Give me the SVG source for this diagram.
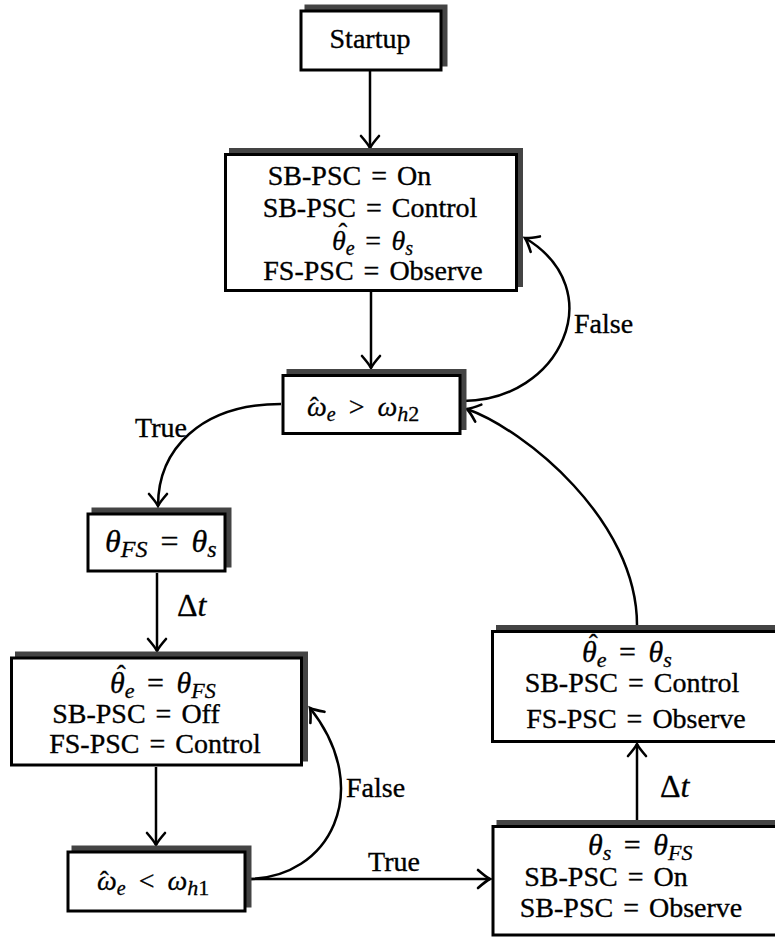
<svg xmlns="http://www.w3.org/2000/svg" width="775" height="939" viewBox="0 0 775 939">
  <style>
    .box { fill: #ffffff; stroke: #000000; stroke-width: 3; }
    .shadow { fill: #444444; stroke: #444444; stroke-width: 3; }
    .t { font-family: "Liberation Serif", "Tinos", "Times New Roman", serif; font-size: 28px; fill: #000000; stroke: #000000; stroke-width: 0.35px; }
    .m { font-family: "Liberation Serif", "Tinos", "Times New Roman", serif; font-size: 28px; font-style: italic; fill: #000000; stroke: #000000; stroke-width: 0.3px; word-spacing: 3.5px; }
    .m30 { font-size: 30px; word-spacing: 5px; }
    .m32 { font-size: 32px; word-spacing: 5px; }
    .w { word-spacing: 6px; }
    .up { font-style: normal; }
    .sub { font-size: 20px; }
    .sub22 { font-size: 22px; }
    .sub24 { font-size: 24px; }
    .hat { font-style: normal; font-size: 26px; }
    .eq { word-spacing: 3px; }
    .edge { fill: none; stroke: #000000; stroke-width: 2.5; marker-end: url(#arrow); }
  </style>
  <defs>
    <marker id="arrow" markerUnits="userSpaceOnUse" viewBox="-14 -10 16 20" refX="0" refY="0" markerWidth="16" markerHeight="20" orient="auto" overflow="visible">
      <path d="M -12,-9 Q -4,-2 0,0 Q -4,2 -12,9" fill="none" stroke="#000000" stroke-width="2.6" stroke-linecap="round" stroke-linejoin="miter"/>
    </marker>
  </defs>

  <!-- connectors -->
  <g id="connectors">
    <path class="edge" d="M 370,71 L 370,148"/>
    <path class="edge" d="M 371,292 L 371,368"/>
    <path class="edge" d="M 281,404 C 200,404 158,450 158,506"/>
    <path class="edge" d="M 157,573 L 157,651"/>
    <path class="edge" d="M 156,767 L 156,845"/>
    <path class="edge" d="M 247,879 C 330,879 375,790 310,708"/>
    <path class="edge" d="M 247,879 L 490,879"/>
    <path class="edge" d="M 637,820 L 637,744"/>
    <path class="edge" d="M 637,625 C 637,520 525,430 467,409"/>
    <path class="edge" d="M 463,401 C 560,401 612,290 525,238"/>
    <text class="t" x="161" y="437" text-anchor="middle">True</text>
    <text class="t" x="574" y="333">False</text>
    <text class="t" x="346" y="797">False</text>
    <text class="t" x="394" y="871" text-anchor="middle">True</text>
    <text class="m m32" x="177" y="616"><tspan class="up">Δ</tspan>t</text>
    <text class="m m32" x="660" y="797"><tspan class="up">Δ</tspan>t</text>
  </g>

  <!-- start -->
  <g id="startup">
    <rect class="shadow" x="306" y="6" width="140" height="59"/>
    <rect class="box" x="301" y="11" width="140" height="59"/>
    <text class="t" x="370" y="48" text-anchor="middle">Startup</text>
  </g>

  <!-- slow-speed observer in control -->
  <g id="sb-control">
    <rect class="shadow" x="230.5" y="149.5" width="291" height="136"/>
    <rect class="box" x="225.5" y="154.5" width="291" height="136"/>
    <text class="t eq" x="349.5" y="185" text-anchor="middle">SB-PSC = On</text>
    <text class="t eq" x="370" y="217" text-anchor="middle">SB-PSC = Control</text>
    <text class="m"><tspan class="hat" x="338.5" y="241">ˆ</tspan><tspan x="332" y="250">θ</tspan><tspan class="sub" dy="5">e</tspan><tspan class="up" dy="-5" xml:space="preserve"> = </tspan>θ<tspan class="sub" dy="5">s</tspan></text>
    <text class="t eq" x="373" y="280" text-anchor="middle">FS-PSC = Observe</text>
  </g>

  <!-- upper speed threshold -->
  <g id="check-high">
    <rect class="shadow" x="288" y="370.5" width="177" height="58"/>
    <rect class="box" x="283" y="375.5" width="177" height="58"/>
    <text class="m w"><tspan class="hat" x="310" y="415">ˆ</tspan><tspan x="307" y="416">ω</tspan><tspan class="sub" dy="5">e</tspan><tspan class="up" dy="-5" xml:space="preserve"> &gt; </tspan>ω<tspan class="sub22" dy="5">h<tspan class="up">2</tspan></tspan></text>
  </g>

  <!-- angle hand-over -->
  <g id="fs-init">
    <rect class="shadow" x="93" y="509" width="137" height="57"/>
    <rect class="box" x="88" y="514" width="137" height="57"/>
    <text class="m m32" x="105" y="552">θ<tspan class="sub24" dy="5">FS</tspan><tspan class="up" dy="-5" xml:space="preserve"> = </tspan>θ<tspan class="sub24" dy="5">s</tspan></text>
  </g>

  <!-- flux-switching observer in control -->
  <g id="fs-control">
    <rect class="shadow" x="16.5" y="653" width="290" height="107"/>
    <rect class="box" x="11.5" y="658" width="290" height="107"/>
    <text class="m m30"><tspan class="hat" x="117" y="683">ˆ</tspan><tspan x="110" y="693">θ</tspan><tspan class="sub22" dy="5">e</tspan><tspan class="up" dy="-5" xml:space="preserve"> = </tspan>θ<tspan class="sub22" dy="5">FS</tspan></text>
    <text class="t eq" x="136" y="723" text-anchor="middle">SB-PSC = Off</text>
    <text class="t eq" x="155" y="753" text-anchor="middle">FS-PSC = Control</text>
  </g>

  <!-- lower speed threshold -->
  <g id="check-low">
    <rect class="shadow" x="73" y="847" width="177" height="59"/>
    <rect class="box" x="68" y="852" width="177" height="59"/>
    <text class="m w"><tspan class="hat" x="100" y="889">ˆ</tspan><tspan x="97" y="890">ω</tspan><tspan class="sub" dy="5">e</tspan><tspan class="up" dy="-5" xml:space="preserve"> &lt; </tspan>ω<tspan class="sub22" dy="5">h<tspan class="up">1</tspan></tspan></text>
  </g>

  <!-- slow-speed observer resync -->
  <g id="sb-resync">
    <rect class="shadow" x="498" y="821.5" width="300" height="108.5"/>
    <rect class="box" x="493" y="826.5" width="300" height="108.5"/>
    <text class="m m30" x="588" y="855">θ<tspan class="sub22" dy="5">s</tspan><tspan class="up" dy="-5" xml:space="preserve"> = </tspan>θ<tspan class="sub22" dy="5">FS</tspan></text>
    <text class="t eq" x="606" y="886" text-anchor="middle">SB-PSC = On</text>
    <text class="t eq" x="631" y="917" text-anchor="middle">SB-PSC = Observe</text>
  </g>

  <!-- slow-speed observer back in control -->
  <g id="sb-return">
    <rect class="shadow" x="497.5" y="626.5" width="300" height="110"/>
    <rect class="box" x="492.5" y="631.5" width="300" height="110"/>
    <text class="m m30"><tspan class="hat" x="589" y="652">ˆ</tspan><tspan x="582" y="662">θ</tspan><tspan class="sub22" dy="5">e</tspan><tspan class="up" dy="-5" xml:space="preserve"> = </tspan>θ<tspan class="sub22" dy="5">s</tspan></text>
    <text class="t eq" x="632" y="692" text-anchor="middle">SB-PSC = Control</text>
    <text class="t eq" x="636" y="728" text-anchor="middle">FS-PSC = Observe</text>
  </g>
</svg>
